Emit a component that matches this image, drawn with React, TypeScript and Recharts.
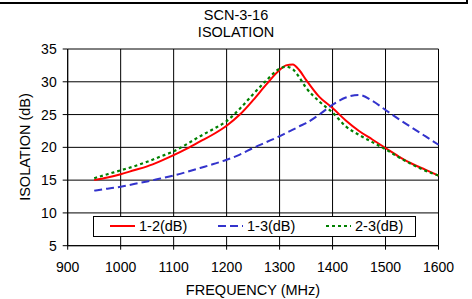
import { CartesianGrid, Label, Legend, Line, LineChart, XAxis, YAxis } from 'recharts'

// frequency points (MHz)
const freq = [
  950, 975, 1000, 1025, 1050, 1075, 1100, 1125, 1150, 1175, 1200, 1225, 1250, 1275, 1300, 1312,
  1325, 1337, 1350, 1375, 1400, 1425, 1450, 1475, 1500, 1525, 1550, 1575, 1600,
]

// isolation, dB
const iso12 = [
  15.0, 15.4, 15.9, 16.5, 17.1, 17.9, 18.8, 19.8, 20.9, 22.0, 23.3, 25.0, 27.2, 29.6, 31.8, 32.5,
  32.65, 31.8, 30.3, 27.7, 26.0, 24.1, 22.5, 21.2, 19.9, 18.6, 17.5, 16.6, 15.7,
]
const iso13 = [
  13.4, 13.7, 14.0, 14.4, 14.8, 15.25, 15.7, 16.25, 16.85, 17.45, 18.1, 18.9, 19.9, 20.8, 21.7, 22.2,
  22.7, 23.2, 23.7, 25.0, 26.5, 27.6, 28.0, 27.1, 25.7, 24.3, 23.0, 21.7, 20.4,
]
const iso23 = [
  15.3, 15.9, 16.5, 17.1, 17.8, 18.6, 19.4, 20.5, 21.7, 22.8, 24.0, 25.9, 28.1, 30.2, 32.0, 32.3,
  31.9, 30.7, 29.1, 27.0, 25.3, 23.2, 21.9, 20.8, 19.7, 18.5, 17.4, 16.45, 15.7,
]

const xTicks = [900, 1000, 1100, 1200, 1300, 1400, 1500, 1600]
const yTicks = [5, 10, 15, 20, 25, 30, 35]

const data = freq.map((f, i) => ({ f, a: iso12[i], b: iso13[i], c: iso23[i] }))

const font = '"Liberation Sans", Arial, sans-serif'

const legendItems = [
  { name: '1-2(dB)', color: '#ff0000', dash: undefined, left: 16 },
  { name: '1-3(dB)', color: '#3333cc', dash: '8 4', left: 124 },
  { name: '2-3(dB)', color: '#008000', dash: '3 3', left: 232 },
]

const renderLegend = () => (
  <div
    style={{
      position: 'relative',
      width: 323,
      height: 21,
      boxSizing: 'border-box',
      border: '1px solid #000',
      background: '#fff',
      fontFamily: font,
      fontSize: 14.5,
      color: '#000',
    }}
  >
    {legendItems.map((it) => (
      <div
        key={it.name}
        style={{ position: 'absolute', left: it.left, top: 0, height: 19, display: 'flex', alignItems: 'center' }}
      >
        <svg width={25} height={6}>
          <line x1={0} y1={3} x2={25} y2={3} stroke={it.color} strokeWidth={2} strokeDasharray={it.dash} />
        </svg>
        <span style={{ marginLeft: 4, lineHeight: '19px' }}>{it.name}</span>
      </div>
    ))}
  </div>
)

export default function App() {
  return (
    <div style={{ position: 'absolute', left: 0, top: 0, width: 472, height: 299, background: '#fff' }}>
      {/* edge of the box above the chart */}
      <div
        style={{
          position: 'absolute',
          left: 0,
          top: 0,
          width: 466,
          height: 2,
          borderBottom: '2px solid #000',
          borderRight: '2px solid #000',
        }}
      />
      <div
        style={{
          position: 'absolute',
          left: 0,
          top: 7,
          width: 472,
          textAlign: 'center',
          fontFamily: font,
          fontSize: 14.5,
          lineHeight: '17px',
          color: '#000',
        }}
      >
        <div>SCN-3-16</div>
        <div>ISOLATION</div>
      </div>
      <LineChart
        width={472}
        height={299}
        data={data}
        margin={{ top: 49, right: 33.5, left: 0, bottom: 23.3 }}
        style={{ position: 'absolute', left: 0, top: 0 }}
      >
        <CartesianGrid stroke="#000" strokeWidth={1} />
        <XAxis
          dataKey="f"
          type="number"
          domain={[900, 1600]}
          ticks={xTicks}
          height={30}
          stroke="#000"
          tickSize={4}
          tickMargin={12}
          tick={{ fill: '#000', fontSize: 14, fontFamily: font }}
        >
          <Label
            content={() => (
              <text x={253} y={295} textAnchor="middle" fontSize={14.5} fontFamily={font} fill="#000">
                FREQUENCY (MHz)
              </text>
            )}
          />
        </XAxis>
        <YAxis
          type="number"
          domain={[5, 35]}
          ticks={yTicks}
          width={67.7}
          stroke="#000"
          tickSize={5}
          tickMargin={6}
          tick={{ fill: '#000', fontSize: 14, fontFamily: font }}
        >
          <Label
            content={() => (
              <text
                x={25}
                y={147}
                textAnchor="middle"
                dominantBaseline="central"
                fontSize={14.5}
                fontFamily={font}
                fill="#000"
                transform="rotate(-90 25 147)"
              >
                ISOLATION (dB)
              </text>
            )}
          />
        </YAxis>
        <Legend
          layout="horizontal"
          verticalAlign="middle"
          align="center"
          content={renderLegend}
          wrapperStyle={{ left: 93, top: 215.5, width: 323, height: 21 }}
        />
        <Line
          type="monotone"
          dataKey="a"
          name="1-2(dB)"
          stroke="#ff0000"
          strokeWidth={2}
          dot={false}
          isAnimationActive={false}
        />
        <Line
          type="monotone"
          dataKey="b"
          name="1-3(dB)"
          stroke="#3333cc"
          strokeWidth={2}
          strokeDasharray="8 4"
          dot={false}
          isAnimationActive={false}
        />
        <Line
          type="monotone"
          dataKey="c"
          name="2-3(dB)"
          stroke="#008000"
          strokeWidth={2.2}
          strokeDasharray="3 3"
          dot={false}
          isAnimationActive={false}
        />
      </LineChart>
    </div>
  )
}
